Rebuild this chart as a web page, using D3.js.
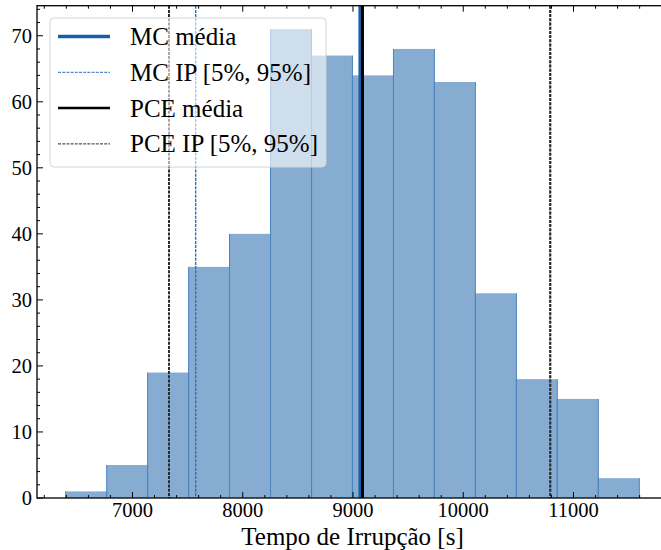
<!DOCTYPE html>
<html>
<head>
<meta charset="utf-8">
<script src="https://cdn.jsdelivr.net/npm/d3@7"></script>
<style>
	body { margin: 0; background: #fff; }
	svg { display: block; }
</style>
</head>
<body>
<svg id="svgHist" width="661" height="550"></svg>
<script>
// Histogram data
var binEdges = [6394, 6766, 7137, 7509, 7880, 8252, 8624, 8995, 9367, 9738, 10110, 10482, 10853, 11225, 11597];
var binCounts = [1, 5, 19, 35, 40, 71, 67, 64, 68, 63, 31, 18, 15, 3];

// Statistics lines
var mcMean = 9063;
var mcInterval = [7573, 10785];
var pceMean = 9086;
var pceInterval = [7331, 10790];

// Axis ticks
var xTicks = [7000, 8000, 9000, 10000, 11000];
var yTicks = [0, 10, 20, 30, 40, 50, 60, 70];
var legendLabels = ["MC média", "MC IP [5%, 95%]", "PCE média", "PCE IP [5%, 95%]"];
var xTitle = "Tempo de Irrupção [s]";

var hist = {};
hist.font = "'Liberation Serif', 'Times New Roman', Tinos, 'DejaVu Serif', serif";

hist.draw = () => {
	let svg = d3.select("#svgHist");

	// Plot area (the right spine falls just outside the picture)
	let margin = {left: 37, top: 5.7, right: 668, bottom: 498};

	// Scales - matplotlib like auto limits
	let lo = binEdges[0], hi = binEdges[binEdges.length - 1];
	let pad = (hi - lo) * 0.05;
	let x = d3.scaleLinear()
			.domain([lo - pad, hi + pad])
			.range([margin.left, margin.right]),
		y = d3.scaleLinear()
			.domain([0, d3.max(binCounts) * 1.05])
			.range([margin.bottom, margin.top]);

	let bins = binCounts.map((c, i) => ({x0: binEdges[i], x1: binEdges[i + 1], count: c}));

	// Bars
	svg.append("g")
		.selectAll("rect")
		.data(bins)
		.enter()
		.append("rect")
		.attr("x", d => x(d.x0))
		.attr("y", d => y(d.count))
		.attr("width", d => x(d.x1) - x(d.x0))
		.attr("height", d => y(0) - y(d.count))
		.attr("fill", "#87acd1");

	// Bar edges
	let edges = svg.append("g")
		.attr("stroke", "#4a84bf")
		.attr("stroke-width", 1);
	bins.forEach(d => {
		[d.x0, d.x1].forEach(v => {
			edges.append("line")
				.attr("x1", x(v)).attr("x2", x(v))
				.attr("y1", y(d.count)).attr("y2", y(0));
		});
	});

	// Vertical statistic lines
	let styles = [
		{color: "#1a5ea8", width: 3, dash: null},
		{color: "#2a6fb8", width: 1.4, dash: "3,1.2"},
		{color: "#000", width: 3, dash: null},
		{color: "#2a2a2a", width: 2, dash: "3,1.2"}
	];
	let vlines = [
		{vals: [mcMean], s: styles[0]},
		{vals: mcInterval, s: styles[1]},
		{vals: [pceMean], s: styles[2]},
		{vals: pceInterval, s: styles[3]}
	];
	let gLines = svg.append("g");
	vlines.forEach(l => {
		l.vals.forEach(v => {
			gLines.append("line")
				.attr("x1", x(v)).attr("x2", x(v))
				.attr("y1", margin.top).attr("y2", margin.bottom)
				.attr("stroke", l.s.color)
				.attr("stroke-width", l.s.width)
				.attr("stroke-dasharray", l.s.dash);
		});
	});

	// Ticks (inward, all four sides)
	let gTicks = svg.append("g")
		.attr("stroke", "#000")
		.attr("stroke-width", 1);
	let xMinor = d3.range(6200, 11900, 200);
	let yMinor = d3.range(0, 75, 2);
	xMinor.forEach(v => {
		let len = (v % 1000 == 0) ? 6 : 3;
		gTicks.append("line").attr("x1", x(v)).attr("x2", x(v))
			.attr("y1", margin.bottom).attr("y2", margin.bottom - len);
		gTicks.append("line").attr("x1", x(v)).attr("x2", x(v))
			.attr("y1", margin.top).attr("y2", margin.top + len);
	});
	yMinor.forEach(v => {
		let len = (v % 10 == 0) ? 6 : 3;
		gTicks.append("line").attr("y1", y(v)).attr("y2", y(v))
			.attr("x1", margin.left).attr("x2", margin.left + len);
		gTicks.append("line").attr("y1", y(v)).attr("y2", y(v))
			.attr("x1", margin.right).attr("x2", margin.right - len);
	});

	// Spines
	svg.append("rect")
		.attr("x", margin.left)
		.attr("y", margin.top)
		.attr("width", margin.right - margin.left)
		.attr("height", margin.bottom - margin.top)
		.attr("fill", "none")
		.attr("stroke", "#000")
		.attr("stroke-width", 1.3);

	// Tick labels
	svg.append("g")
		.selectAll("text")
		.data(xTicks)
		.enter()
		.append("text")
		.attr("x", d => x(d))
		.attr("y", 517)
		.attr("text-anchor", "middle")
		.attr("font-family", hist.font)
		.attr("font-size", 20.5)
		.text(d => d);

	svg.append("g")
		.selectAll("text")
		.data(yTicks)
		.enter()
		.append("text")
		.attr("x", 32)
		.attr("y", d => y(d) + 7)
		.attr("text-anchor", "end")
		.attr("font-family", hist.font)
		.attr("font-size", 20.5)
		.text(d => d);

	// Axis title
	svg.append("text")
		.attr("x", (margin.left + margin.right) / 2)
		.attr("y", 545)
		.attr("text-anchor", "middle")
		.attr("font-family", hist.font)
		.attr("font-size", 25)
		.text(xTitle);

	// Legend
	let legend = svg.append("g");
	legend.append("rect")
		.attr("x", 50).attr("y", 18)
		.attr("width", 276).attr("height", 149)
		.attr("rx", 4)
		.attr("fill", "#fff")
		.attr("fill-opacity", 0.6)
		.attr("stroke", "#d4d4d4")
		.attr("stroke-width", 1);

	legendLabels.forEach((lab, i) => {
		let yy = 36.5 + i * 35.8;
		let s = styles[i];
		legend.append("line")
			.attr("x1", 58).attr("x2", 110)
			.attr("y1", yy).attr("y2", yy)
			.attr("stroke", s.color)
			.attr("stroke-width", i == 0 ? 3.5 : (i == 2 ? 2.5 : 1))
			.attr("stroke-dasharray", s.dash);
		legend.append("text")
			.attr("x", 130)
			.attr("y", yy + 8.5)
			.attr("font-family", hist.font)
			.attr("font-size", 25)
			.text(lab);
	});
}

hist.draw();
</script>
</body>
</html>
